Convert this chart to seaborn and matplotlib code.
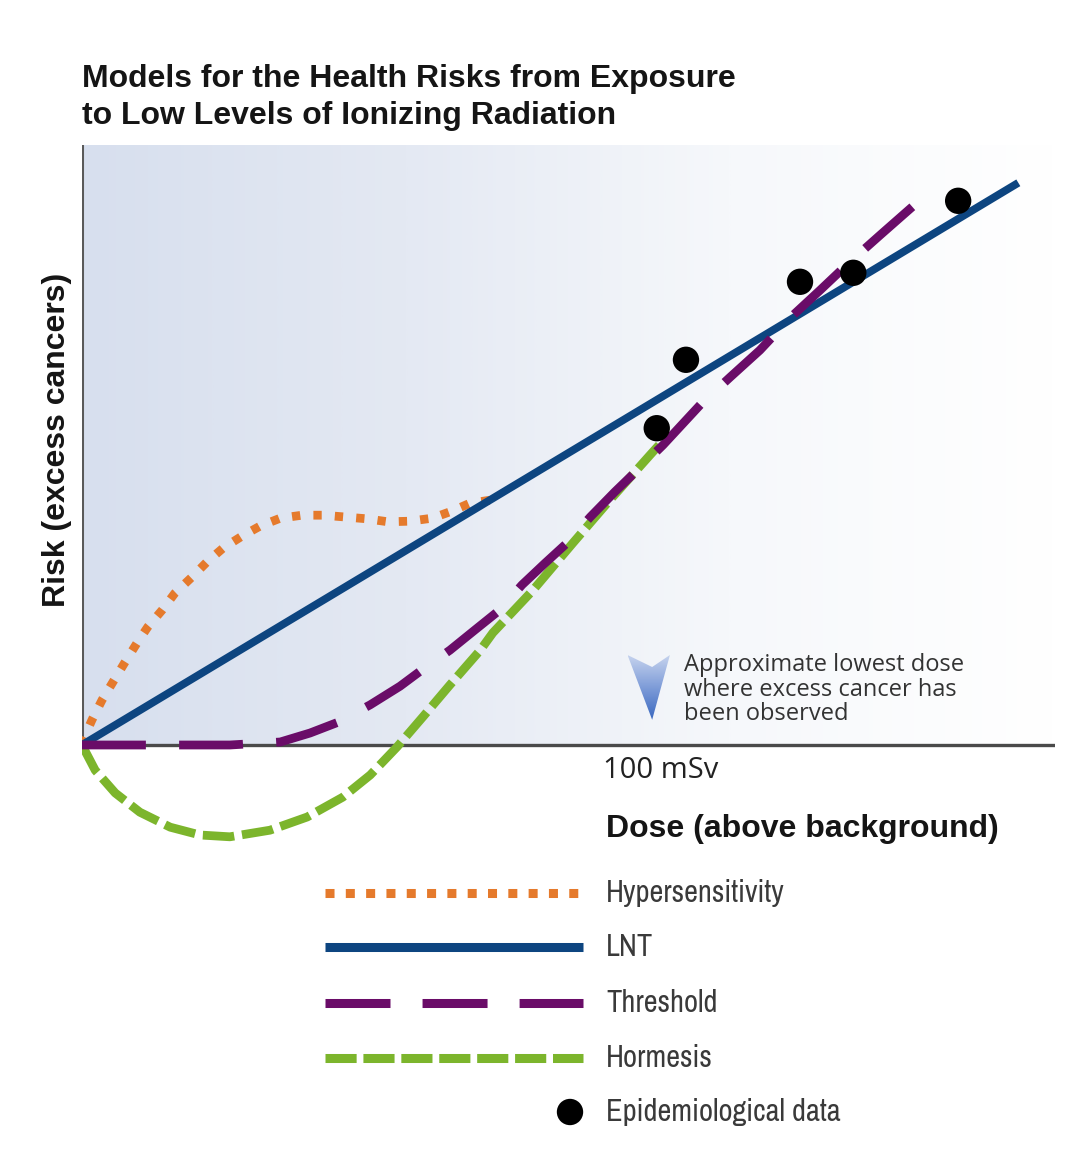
import numpy as np
import matplotlib
matplotlib.use("Agg")
import matplotlib.pyplot as plt
import seaborn as sns
from matplotlib.colors import LinearSegmentedColormap
from matplotlib.patches import Polygon
from matplotlib import font_manager

# ---- data: dose in mSv, risk in arbitrary units ----
lnt_dose = [0.0, 163.4]
lnt_risk = [0.0, 93.7]

hyper_dose = [0.0, 0.35, 1.75, 3.5, 5.4, 7.5, 9.6, 11.5, 14.0, 16.2, 19.2, 21.8,
              24.6, 27.9, 31.1, 34.6, 38.4, 42.1, 45.9, 49.7, 53.4, 57.2, 61.1,
              64.6, 67.7, 71.2]
hyper_risk = [0.0, 1.2, 4.2, 7.5, 10.5, 13.8, 17.0, 19.7, 22.5, 25.3, 28.0, 30.5,
              32.8, 34.8, 36.5, 37.8, 38.3, 38.3, 38.0, 37.7, 37.2, 37.3, 37.8,
              39.0, 40.3, 40.8]

thresh_dose = [0.0, 25.8, 34.6, 39.8, 44.7, 50.3, 55.5, 59.3, 64.2, 68.6, 72.9,
               76.8, 80.8, 84.8, 88.7, 93.0, 96.9, 101.4, 107.9, 113.1, 118.3,
               123.6, 128.8, 134.0, 139.3, 144.9]
thresh_risk = [0.0, 0.0, 0.5, 2.0, 3.8, 6.7, 9.8, 12.5, 15.8, 19.2, 22.5,
               26.7, 30.3, 33.8, 38.0, 42.2, 45.8, 50.0, 56.7, 61.3, 65.8,
               71.2, 75.8, 80.5, 85.0, 89.7]

horm_dose = [0.0, 2.3, 5.8, 10.1, 15.4, 20.6, 25.8, 32.8, 39.3, 45.5, 50.3, 55.0,
             59.5, 64.2, 69.5, 71.7, 78.7, 85.7, 92.1, 99.1, 100.9]
horm_risk = [0.0, -4.2, -8.0, -11.2, -13.7, -15.0, -15.3, -14.2, -12.0, -8.7, -5.0,
             -0.3, 4.7, 10.0, 15.8, 18.7, 25.8, 33.7, 40.8, 48.3, 50.2]

epi_dose = [100.3, 105.4, 125.3, 134.6, 152.9]
epi_risk = [52.8, 64.2, 77.2, 78.7, 90.7]

model_labels = ["Hypersensitivity", "LNT", "Threshold", "Hormesis",
                "Epidemiological data"]

C_ORANGE = "#E57A2C"
C_NAVY = "#0D4580"
C_PURPLE = "#6A0C68"
C_GREEN = "#7CB52C"

X_MAX, Y_MIN, Y_MAX = 169.8, -17.5, 100.0

sns.set_theme(style="white")
plt.rcParams["font.family"] = ["Liberation Sans", "DejaVu Sans"]

installed = {f.name for f in font_manager.fontManager.ttflist}


def first_font(candidates, fallback):
    for name in candidates:
        if name in installed:
            return name
    return fallback


key_family = first_font(["Liberation Sans Narrow", "Arial Narrow", "Archivo Narrow",
                         "PT Sans Narrow", "Roboto Condensed", "Pragati Narrow",
                         "Fira Sans Condensed"], "Liberation Sans")
note_family = first_font(["Open Sans"], "DejaVu Sans")

W, H = 1071, 1174
fig = plt.figure(figsize=(W / 100, H / 100), dpi=100)
fig.patch.set_facecolor("white")

ax = fig.add_axes([82 / W, 1 - 850 / H, 973 / W, 705 / H])
ax.axis("off")

# shaded panel behind the curves
bg = LinearSegmentedColormap.from_list("panel", ["#D7DFEE", "#E4E9F3", "#F6F8FB", "#FFFFFF"])
ax.imshow(np.linspace(0, 1, 512)[None, :], extent=[0, X_MAX, 0, Y_MAX],
          aspect="auto", cmap=bg, origin="lower", zorder=0)

# axis lines
ax.axhline(0, color="#4a4a4a", lw=2.4, zorder=1)
ax.axvline(0, ymin=(0 - Y_MIN) / (Y_MAX - Y_MIN), ymax=1, color="#5a5a5a", lw=2.2, zorder=1)

# model curves
LW = 6.3
sns.lineplot(x=horm_dose, y=horm_risk, ax=ax, color=C_GREEN, linewidth=LW, sort=False,
             estimator=None, linestyle=(0, (3.6, 0.9)), zorder=2)
sns.lineplot(x=hyper_dose, y=hyper_risk, ax=ax, color=C_ORANGE, linewidth=LW, sort=False,
             estimator=None, linestyle=(0, (0.95, 1.5)), zorder=3)
sns.lineplot(x=lnt_dose, y=lnt_risk, ax=ax, color=C_NAVY, linewidth=5.6, sort=False,
             estimator=None, zorder=4, solid_capstyle="butt")
sns.lineplot(x=thresh_dose, y=thresh_risk, ax=ax, color=C_PURPLE, linewidth=LW, sort=False,
             estimator=None, linestyle=(0, (7.3, 3.8)), zorder=5)
sns.scatterplot(x=epi_dose, y=epi_risk, ax=ax, s=360, color="black",
                edgecolor="none", zorder=6, legend=False)

ax.set_xlim(0, X_MAX)
ax.set_ylim(Y_MIN, Y_MAX)

# downward marker near 100 mSv
chev = Polygon([(95.2, 15.0), (99.5, 13.0), (102.6, 15.0), (99.5, 4.2)],
               closed=True, facecolor="none", edgecolor="none", zorder=3)
ax.add_patch(chev)
chev_cmap = LinearSegmentedColormap.from_list("chev", ["#3A68C0", "#7E9CD8", "#C6D3EE"])
grad_img = ax.imshow(np.linspace(0, 1, 256)[:, None], extent=[95.2, 102.6, 4.2, 15.0],
                     aspect="auto", cmap=chev_cmap, origin="lower", zorder=3)
grad_img.set_clip_path(chev)
ax.set_xlim(0, X_MAX)
ax.set_ylim(Y_MIN, Y_MAX)

dose_tick = ax.text(101.0, -4.3, "100 mSv", ha="center", va="center", fontsize=21,
                    family=[note_family, "DejaVu Sans"], color="#222222")
note = ax.text(105.1, 9.2, "Approximate lowest dose\nwhere excess cancer has\nbeen observed",
               ha="left", va="center", fontsize=17, linespacing=1.02,
               family=[note_family, "DejaVu Sans"], color="#333333", zorder=7)

# overlay in pixel units for titles and the key
ov = fig.add_axes([0, 0, 1, 1], zorder=10)
ov.set_xlim(0, W)
ov.set_ylim(H, 0)
ov.axis("off")
ov.patch.set_visible(False)

ov.text(82, 87, "Models for the Health Risks from Exposure", fontsize=23,
        fontweight="bold", color="#151515", va="baseline", ha="left")
ov.text(82, 124, "to Low Levels of Ionizing Radiation", fontsize=23,
        fontweight="bold", color="#151515", va="baseline", ha="left")
ov.text(57, 440, "Risk (excess cancers)", fontsize=23, fontweight="bold",
        color="#151515", rotation=90, ha="center", va="center")
ov.text(606, 829, "Dose (above background)", fontsize=23, fontweight="bold",
        color="#151515", ha="left", va="center")

# key
key_rows = [893, 947, 1003, 1058, 1112]
kx0, kx1 = 325, 583
key_styles = [
    dict(color=C_ORANGE, lw=6.5, linestyle=(0, (1.0, 1.25))),
    dict(color=C_NAVY, lw=6.5, solid_capstyle="butt"),
    dict(color=C_PURPLE, lw=6.5, linestyle=(0, (7.2, 3.55))),
    dict(color=C_GREEN, lw=6.5, linestyle=(0, (3.45, 0.75))),
]
for yk, style in zip(key_rows[:4], key_styles):
    ov.plot([kx0, kx1], [yk, yk], **style)
ov.scatter([570], [key_rows[4]], s=360, color="black", edgecolor="none")

key_texts = [ov.text(606, yk, lab, ha="left", va="center", color="#3a3a3a",
                     family=[key_family, "DejaVu Sans"], fontsize=22)
             for yk, lab in zip(key_rows, model_labels)]

# size the key labels so "Hypersensitivity" spans its intended width
fig.canvas.draw()
renderer = fig.canvas.get_renderer()
scale = 179 / key_texts[0].get_window_extent(renderer).width
for t in key_texts:
    t.set_fontsize(t.get_fontsize() * scale)

fig.savefig("out.png", dpi=100, facecolor="white")
